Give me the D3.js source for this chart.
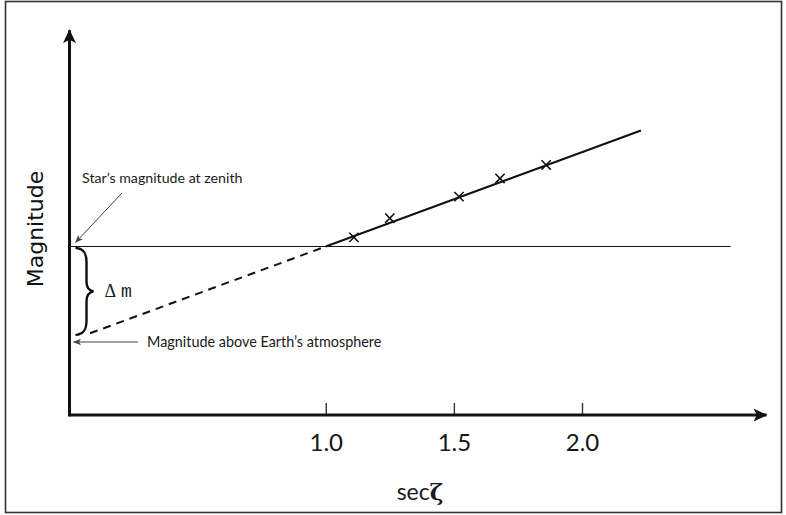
<!DOCTYPE html>
<html>
<head>
<meta charset="utf-8">
<script src="https://cdn.jsdelivr.net/npm/d3@7"></script>
<style>
  html, body { margin: 0; padding: 0; background: #fff; }
  svg { display: block; }
</style>
</head>
<body>
<svg id="chart" width="786" height="515"></svg>
<script>
// Observed magnitudes at several air masses (sec ζ)
const secz = [1.11, 1.25, 1.52, 1.68, 1.86];
const mags = [5.27, 5.84, 6.48, 7.02, 7.42];

// Bouguer line m = m0 + k·secζ
const m0 = 2.2;   // magnitude above Earth's atmosphere
const k = 2.8;    // extinction per unit air mass
const fitSolid = [1.0, 2.23];   // drawn range through the measurements
const fitDashed = [0.08, 1.0];  // extrapolation back toward sec ζ = 0

// Axis extents and ticks
const xTicks = [1.0, 1.5, 2.0];
const xTickLabels = ["1.0", "1.5", "2.0"];
const xAxisMax = 2.72;
const yAxisMax = 11.42;
const zenithLineEnd = 2.58;

const svg = d3.select("#chart");

const x = d3.scaleLinear().domain([0, 2]).range([69.5, 582]);
const y = d3.scaleLinear().domain([0, 5]).range([415, 246.5]);

const ink = "#111";

// Frame
svg.append("rect")
  .attr("x", 5.5).attr("y", 1.5)
  .attr("width", 776).attr("height", 511)
  .attr("fill", "none").attr("stroke", "#333").attr("stroke-width", 1.6);

// Arrowheads
const defs = svg.append("defs");
defs.append("marker")
  .attr("id", "axisHead")
  .attr("viewBox", "0 0 14 14")
  .attr("refX", 13).attr("refY", 7)
  .attr("markerWidth", 14).attr("markerHeight", 14)
  .attr("markerUnits", "userSpaceOnUse")
  .attr("orient", "auto")
  .append("path")
  .attr("d", "M0,0.5 L14,7 L0,13.5 L3.5,7 Z")
  .attr("fill", ink);
defs.append("marker")
  .attr("id", "noteHead")
  .attr("viewBox", "0 0 8 8")
  .attr("refX", 7.5).attr("refY", 4)
  .attr("markerWidth", 8).attr("markerHeight", 8)
  .attr("markerUnits", "userSpaceOnUse")
  .attr("orient", "auto")
  .append("path")
  .attr("d", "M0,0.8 L8,4 L0,7.2 L2,4 Z")
  .attr("fill", "#444");

// x axis with upward ticks
const xAxis = d3.axisBottom(x)
  .tickValues(xTicks)
  .tickFormat((d, i) => xTickLabels[i])
  .tickSize(-12)
  .tickSizeOuter(0)
  .tickPadding(19);

const gx = svg.append("g")
  .attr("transform", `translate(0,${y(0)})`)
  .call(xAxis);
gx.select(".domain").remove();
gx.selectAll(".tick line").attr("stroke", "#333").attr("stroke-width", 1.4);
gx.selectAll(".tick text")
  .attr("font-family", "Lato, 'Open Sans', sans-serif")
  .attr("font-size", 24)
  .attr("fill", "#141414");

// Axis lines with arrowheads
svg.append("line")
  .attr("x1", x(0)).attr("y1", y(0))
  .attr("x2", x(xAxisMax)).attr("y2", y(0))
  .attr("stroke", ink).attr("stroke-width", 3)
  .attr("marker-end", "url(#axisHead)");
svg.append("line")
  .attr("x1", x(0)).attr("y1", y(0) + 1.5)
  .attr("x2", x(0)).attr("y2", y(yAxisMax))
  .attr("stroke", ink).attr("stroke-width", 3)
  .attr("marker-end", "url(#axisHead)");

// Zenith magnitude reference line
const mZenith = m0 + k * 1.0;
svg.append("line")
  .attr("x1", x(0)).attr("y1", y(mZenith))
  .attr("x2", x(zenithLineEnd)).attr("y2", y(mZenith))
  .attr("stroke", ink).attr("stroke-width", 1.1);

// Fitted line: dashed extrapolation, then solid through the data
const fit = s => m0 + k * s;
const line = d3.line().x(d => x(d)).y(d => y(fit(d)));
svg.append("path")
  .attr("d", line(fitDashed))
  .attr("fill", "none").attr("stroke", ink).attr("stroke-width", 2)
  .attr("stroke-dasharray", "8,6");
svg.append("path")
  .attr("d", line(fitSolid))
  .attr("fill", "none").attr("stroke", ink).attr("stroke-width", 2);

// Measurements
const sym = d3.symbol().type(d3.symbolX).size(58);
svg.append("g").selectAll("path")
  .data(secz.map((s, i) => [s, mags[i]]))
  .join("path")
  .attr("d", sym)
  .attr("transform", d => `translate(${x(d[0])},${y(d[1])})`)
  .attr("fill", "none").attr("stroke", ink).attr("stroke-width", 1.6);

// Brace marking Δm between m(sec ζ = 1) and m0
const yTop = y(mZenith) + 1.5, yBot = y(m0) - 6, yMid = (yTop + yBot) / 2;
const bx = x(0) + 7;
const brace = d3.path();
brace.moveTo(bx, yTop);
brace.bezierCurveTo(bx + 8, yTop + 1, bx + 10, yTop + 6, bx + 10, yTop + 14);
brace.lineTo(bx + 10, yMid - 10);
brace.bezierCurveTo(bx + 10, yMid - 4, bx + 12, yMid - 1, bx + 17, yMid);
brace.bezierCurveTo(bx + 12, yMid + 1, bx + 10, yMid + 4, bx + 10, yMid + 10);
brace.lineTo(bx + 10, yBot - 14);
brace.bezierCurveTo(bx + 10, yBot - 6, bx + 8, yBot - 1, bx, yBot);
svg.append("path")
  .attr("d", brace.toString())
  .attr("fill", "none").attr("stroke", "#0d0d1a").attr("stroke-width", 2.4)
  .attr("stroke-linecap", "round");

const dm = svg.append("text")
  .attr("x", bx + 28).attr("y", yMid + 6)
  .attr("font-size", 18)
  .attr("fill", "#1a1a1a");
dm.append("tspan")
  .attr("font-family", "'Liberation Serif', 'DejaVu Serif', serif")
  .text("Δ");
dm.append("tspan")
  .attr("dx", 5)
  .attr("font-family", "'Liberation Mono', 'DejaVu Sans Mono', monospace")
  .text("m");

// Annotations
const noteFont = "Lato, 'Open Sans', sans-serif";
svg.append("text")
  .attr("x", 82).attr("y", 183)
  .attr("font-family", noteFont).attr("font-size", 14.2)
  .attr("fill", "#1a1a1a")
  .text("Star’s magnitude at zenith");
svg.append("line")
  .attr("x1", 122).attr("y1", 193)
  .attr("x2", x(0) + 6).attr("y2", y(mZenith) - 4)
  .attr("stroke", "#444").attr("stroke-width", 1)
  .attr("marker-end", "url(#noteHead)");

svg.append("text")
  .attr("x", 147).attr("y", 347)
  .attr("font-family", noteFont).attr("font-size", 14.4)
  .attr("fill", "#1a1a1a")
  .text("Magnitude above Earth’s atmosphere");
svg.append("line")
  .attr("x1", 138).attr("y1", 342)
  .attr("x2", x(0) + 4).attr("y2", 342)
  .attr("stroke", "#444").attr("stroke-width", 1)
  .attr("marker-end", "url(#noteHead)");

// Axis titles
svg.append("text")
  .attr("transform", "translate(43,229) rotate(-90)")
  .attr("text-anchor", "middle")
  .attr("font-family", "'DejaVu Sans', sans-serif")
  .attr("font-size", 22)
  .attr("fill", "#111")
  .text("Magnitude");

const xt = svg.append("text")
  .attr("x", 420).attr("y", 500)
  .attr("text-anchor", "middle")
  .attr("font-family", "Lato, 'Open Sans', sans-serif")
  .attr("font-size", 23)
  .attr("fill", "#1a1a1a");
xt.append("tspan").text("sec");
xt.append("tspan").attr("font-weight", "bold").attr("font-family", "'DejaVu Serif', serif").text("ζ");
</script>
</body>
</html>
